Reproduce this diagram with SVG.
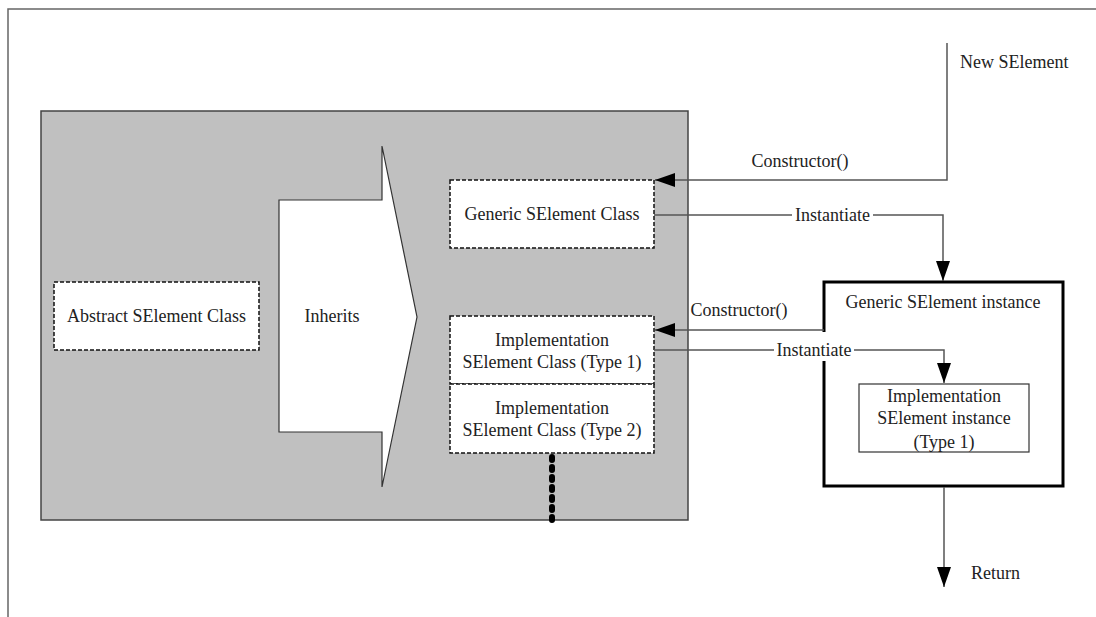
<svg xmlns="http://www.w3.org/2000/svg" width="1096" height="617" viewBox="0 0 1096 617">
  <style>
    .lbl { font-family: "Liberation Serif", "Times New Roman", serif; font-size: 18px; fill: #222; }
    .dash { fill: #fff; stroke: #111; stroke-width: 1.5; stroke-dasharray: 4 2; }
    .wire { fill: none; stroke: #555; stroke-width: 1.5; }
    .head { fill: #000; }
  </style>
  <defs>
    <marker id="arrow" markerUnits="userSpaceOnUse" markerWidth="20" markerHeight="14" refX="20" refY="7" orient="auto">
      <path class="head" d="M0,0 L20,7 L0,14 z"/>
    </marker>
  </defs>

  <rect width="1096" height="617" fill="#fff"/>

  <!-- page frame -->
  <path d="M8,617 V9 H1096" fill="none" stroke="#666" stroke-width="1.5"/>

  <!-- class container -->
  <g id="class-area">
    <rect x="41" y="111" width="647" height="409" fill="#c0c0c0" stroke="#444" stroke-width="1.5"/>
  </g>

  <g id="abstract-class">
    <rect class="dash" x="54" y="282" width="205" height="68"/>
    <text class="lbl" x="156.5" y="322" text-anchor="middle">Abstract SElement Class</text>
  </g>

  <g id="inherits">
    <path d="M279,200 H382 V146 L417,317 L382,487 V432 H279 Z" fill="#fff" stroke="#333" stroke-width="1.2"/>
    <text class="lbl" x="332" y="322" text-anchor="middle">Inherits</text>
  </g>

  <g id="generic-class">
    <rect class="dash" x="450" y="180" width="204" height="68"/>
    <text class="lbl" x="552" y="220" text-anchor="middle">Generic SElement Class</text>
  </g>

  <g id="impl-class-1">
    <rect class="dash" x="450" y="316" width="204" height="68"/>
    <text class="lbl" x="552" y="346" text-anchor="middle">Implementation</text>
    <text class="lbl" x="552" y="368" text-anchor="middle">SElement Class (Type 1)</text>
  </g>

  <g id="impl-class-2">
    <rect class="dash" x="450" y="384" width="204" height="69"/>
    <text class="lbl" x="552" y="414" text-anchor="middle">Implementation</text>
    <text class="lbl" x="552" y="436" text-anchor="middle">SElement Class (Type 2)</text>
  </g>

  <g id="more-types">
    <line x1="552" y1="457" x2="552" y2="520" stroke="#000" stroke-width="6" stroke-linecap="round" stroke-dasharray="3 7"/>
  </g>

  <g id="generic-instance">
    <rect x="824" y="282" width="239" height="204" fill="#fff" stroke="#000" stroke-width="3"/>
    <text class="lbl" x="943" y="308" text-anchor="middle">Generic SElement instance</text>
  </g>

  <g id="impl-instance">
    <rect x="859" y="384" width="170" height="68" fill="#fff" stroke="#333" stroke-width="1.2"/>
    <text class="lbl" x="944" y="402" text-anchor="middle">Implementation</text>
    <text class="lbl" x="944" y="424" text-anchor="middle">SElement instance</text>
    <text class="lbl" x="944" y="448" text-anchor="middle">(Type 1)</text>
  </g>

  <g id="connectors">
    <!-- new element request -> generic class constructor -->
    <path class="wire" d="M947,43 V180 H655" marker-end="url(#arrow)"/>
    <text class="lbl" x="800" y="167" text-anchor="middle">Constructor()</text>
    <text class="lbl" x="960" y="68">New SElement</text>

    <!-- generic class -> generic instance -->
    <path class="wire" d="M654,215 H943 V281" marker-end="url(#arrow)"/>
    <rect x="792" y="204" width="81" height="22" fill="#fff"/>
    <text class="lbl" x="832.5" y="221" text-anchor="middle">Instantiate</text>

    <!-- generic instance -> implementation class constructor -->
    <path class="wire" d="M824,330 H655" marker-end="url(#arrow)"/>
    <text class="lbl" x="739" y="316" text-anchor="middle">Constructor()</text>

    <!-- implementation class -> implementation instance -->
    <path class="wire" d="M654,350 H944 V383" marker-end="url(#arrow)"/>
    <rect x="774" y="332" width="80" height="29" fill="#fff"/>
    <text class="lbl" x="814" y="356" text-anchor="middle">Instantiate</text>

    <!-- return -->
    <path class="wire" d="M944,487 V587" marker-end="url(#arrow)"/>
    <text class="lbl" x="971" y="579">Return</text>
  </g>
</svg>
